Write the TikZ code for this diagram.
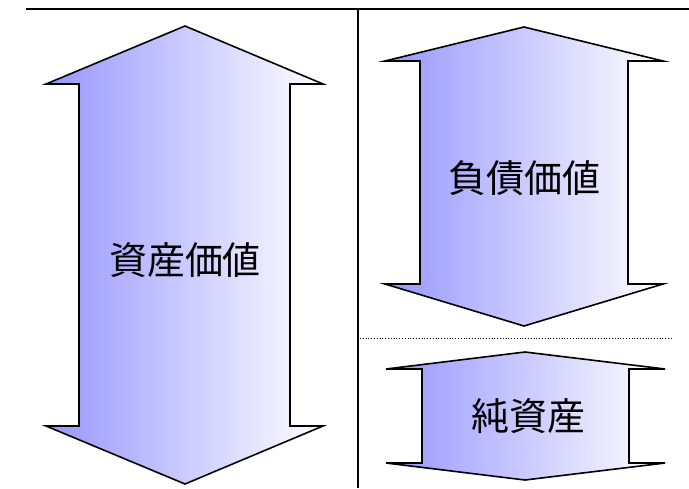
\documentclass[tikz,border=0pt]{standalone}
\usepackage{fontspec}
\newfontfamily\jp{Noto Sans CJK JP}
\definecolor{arrowblue}{RGB}{150,150,255}
\begin{document}
\begin{tikzpicture}[x=1pt,y=-1pt,
  dblarrow/.style={draw=black,line width=1.6pt,line join=miter,left color=arrowblue,middle color=arrowblue!42!white,right color=white,shading angle=90},
  lbl/.style={font=\jp\fontsize{38}{42}\selectfont,inner sep=0pt},
  frame/.style={draw=black,line width=1.6pt}]
\useasboundingbox (0,0) rectangle (689,488);
% frame
\coordinate (tl) at (26,9);
\coordinate (tr) at (689,9);
\coordinate (vt) at (358,9);
\coordinate (vb) at (358,488);
\draw[frame] (tl) -- (tr);
\draw[black,line width=1.2pt] (vt) -- (vb);
\coordinate (dl) at (360,338);
\coordinate (dr) at (673,338);
\draw[black,line width=0.8pt,dotted] (dl) -- (dr);
% asset arrow
\path[dblarrow] (185,26) -- (323,84) -- (290,84) -- (290,426) -- (323,426) -- (185,484)
  -- (46,426) -- (79,426) -- (79,84) -- (46,84) -- cycle;
\node[lbl] (assets) at (185,260) {資産価値};
% liability arrow
\path[dblarrow] (524,27) -- (663,61) -- (628,61) -- (628,284) -- (663,284) -- (524,326)
  -- (385,284) -- (420,284) -- (420,61) -- (385,61) -- cycle;
\node[lbl] (liab) at (524,178) {負債価値};
% net assets arrow
\path[dblarrow] (525,352) -- (665,369) -- (629,369) -- (629,463) -- (665,463) -- (525,480)
  -- (386,463) -- (422,463) -- (422,369) -- (386,369) -- cycle;
\node[lbl] (net) at (528,416) {純資産};
\end{tikzpicture}
\end{document}
